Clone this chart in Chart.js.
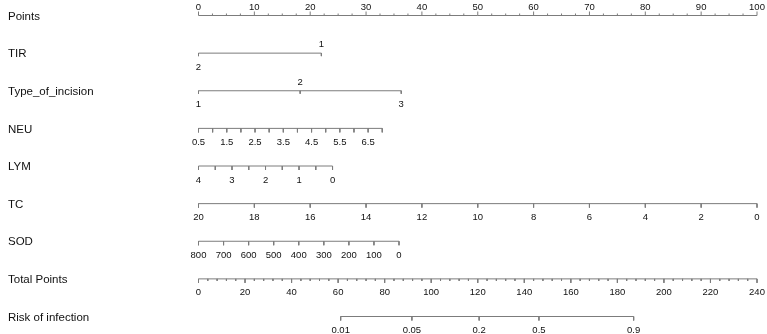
<!DOCTYPE html>
<html>
<head>
<meta charset="utf-8">
<script src="https://cdn.jsdelivr.net/npm/chart.js@4.4.1/dist/chart.umd.min.js"></script>
<style>
  html, body { margin: 0; padding: 0; background: #fff; }
  #wrap { width: 767px; height: 334px; }
</style>
</head>
<body>
<div id="wrap"><canvas id="nomo"></canvas></div>
<script>
// row names, top to bottom
const rowNames = ['Points', 'TIR', 'Type_of_incision', 'NEU', 'LYM', 'TC', 'SOD', 'Total Points', 'Risk of infection'];

// points scale
const pointLabels = [0, 10, 20, 30, 40, 50, 60, 70, 80, 90, 100];

// categorical variables: level -> points
const tirLevels = ['2', '1'];
const tirPoints = [0, 22];
const incisionLevels = ['1', '2', '3'];
const incisionPoints = [0, 18.2, 36.3];

// continuous variables: value range -> points range
const neuLabels = [0.5, 1.5, 2.5, 3.5, 4.5, 5.5, 6.5];
const neuRange = [0.5, 7];
const neuPointRange = [0, 32.9];

const lymLabels = [4, 3, 2, 1, 0];
const lymRange = [4, 0];
const lymPointRange = [0, 24.0];

const tcLabels = [20, 18, 16, 14, 12, 10, 8, 6, 4, 2, 0];
const tcRange = [20, 0];
const tcPointRange = [0, 100];

const sodLabels = [800, 700, 600, 500, 400, 300, 200, 100, 0];
const sodRange = [800, 0];
const sodPointRange = [0, 35.9];

// total points and risk
const totalLabels = [0, 20, 40, 60, 80, 100, 120, 140, 160, 180, 200, 220, 240];
const riskLabels = ['0.01', '0.05', '0.2', '0.5', '0.9'];
const riskTotalPoints = [61.1, 91.7, 120.6, 146.3, 187.0];

const lineColor = '#7c7c7c';
const textColor = '#111';
const rowPx = (316.5 - 15.5) / 8;

function toPts(v, range, ptRange) {
  return ptRange[0] + (v - range[0]) / (range[1] - range[0]) * (ptRange[1] - ptRange[0]);
}
function steps(a, b, step) {
  const out = [];
  const n = Math.round(Math.abs(b - a) / step);
  for (let i = 0; i <= n; i++) out.push(a + Math.sign(b - a) * step * i);
  return out;
}

// each row: which x scale, tick direction, line ends, ticks [pos, lenPx], labels [pos, text, side]
const rows = [];
rows.push({
  axis: 'x', dir: -1, line: [0, 100],
  ticks: steps(0, 100, 2.5).map(p => [p, p % 10 === 0 ? 4 : 2]),
  labels: pointLabels.map(p => [p, String(p), 'above'])
});
rows.push({
  axis: 'x', dir: 1, line: [tirPoints[0], tirPoints[1]],
  ticks: tirPoints.map(p => [p, 3]),
  labels: tirLevels.map((l, i) => [tirPoints[i], l, i % 2 ? 'above' : 'below'])
});
rows.push({
  axis: 'x', dir: 1, line: [incisionPoints[0], incisionPoints[2]],
  ticks: incisionPoints.map(p => [p, 3]),
  labels: incisionLevels.map((l, i) => [incisionPoints[i], l, i % 2 ? 'above' : 'below'])
});
rows.push({
  axis: 'x', dir: 1, line: neuPointRange,
  ticks: steps(neuRange[0], neuRange[1], 0.5).map(v => [toPts(v, neuRange, neuPointRange), 4]),
  labels: neuLabels.map(v => [toPts(v, neuRange, neuPointRange), String(v), 'below'])
});
rows.push({
  axis: 'x', dir: 1, line: lymPointRange,
  ticks: steps(lymRange[0], lymRange[1], 0.5).map(v => [toPts(v, lymRange, lymPointRange), 4]),
  labels: lymLabels.map(v => [toPts(v, lymRange, lymPointRange), String(v), 'below'])
});
rows.push({
  axis: 'x', dir: 1, line: tcPointRange,
  ticks: tcLabels.map(v => [toPts(v, tcRange, tcPointRange), 4]),
  labels: tcLabels.map(v => [toPts(v, tcRange, tcPointRange), String(v), 'below'])
});
rows.push({
  axis: 'x', dir: 1, line: sodPointRange,
  ticks: sodLabels.map(v => [toPts(v, sodRange, sodPointRange), 4]),
  labels: sodLabels.map(v => [toPts(v, sodRange, sodPointRange), String(v), 'below'])
});
rows.push({
  axis: 'xt', dir: 1, line: [0, 240],
  ticks: steps(0, 240, 4).map(p => [p, p % 20 === 0 ? 4 : 2]),
  labels: totalLabels.map(p => [p, String(p), 'below'])
});
rows.push({
  axis: 'xt', dir: 1, line: [riskTotalPoints[0], riskTotalPoints[riskTotalPoints.length - 1]],
  ticks: riskTotalPoints.map(p => [p, 4]),
  labels: riskLabels.map((l, i) => [riskTotalPoints[i], l, 'below'])
});

const datasets = rows.map((row, r) => {
  const data = [{ x: row.line[0], y: r }, { x: row.line[1], y: r }];
  row.ticks.forEach(([p, len]) => {
    data.push({ x: null, y: null });
    data.push({ x: p, y: r });
    data.push({ x: p, y: r + row.dir * len / rowPx });
  });
  return {
    data: data,
    xAxisID: row.axis,
    showLine: true,
    spanGaps: false,
    pointRadius: 0,
    borderColor: lineColor,
    borderWidth: 1,
    clip: false
  };
});

const textPlugin = {
  id: 'nomoText',
  afterDatasetsDraw(chart) {
    const ctx = chart.ctx;
    const yScale = chart.scales.y;
    ctx.save();
    ctx.fillStyle = textColor;
    rows.forEach((row, r) => {
      const y = yScale.getPixelForValue(r);
      ctx.font = '11.5px "Liberation Sans", Arial, sans-serif';
      ctx.textAlign = 'left';
      ctx.textBaseline = 'middle';
      ctx.fillText(rowNames[r], 8, y + 1);
      ctx.font = '9.5px "Liberation Sans", Arial, sans-serif';
      ctx.textAlign = 'center';
      ctx.textBaseline = 'alphabetic';
      const xs = chart.scales[row.axis];
      row.labels.forEach(([p, t, side]) => {
        const x = xs.getPixelForValue(p);
        ctx.fillText(t, x, side === 'above' ? y - 6 : y + 16.5);
      });
    });
    ctx.restore();
  }
};

new Chart(document.getElementById('nomo'), {
  type: 'scatter',
  data: { datasets: datasets },
  options: {
    animation: false,
    responsive: true,
    maintainAspectRatio: false,
    events: [],
    layout: { padding: { left: 198.5, right: 10, top: 15.5, bottom: 17.5 } },
    scales: {
      x: { type: 'linear', min: 0, max: 100, display: false },
      xt: { type: 'linear', axis: 'x', min: 0, max: 240, display: false },
      y: { type: 'linear', min: 0, max: 8, reverse: true, display: false }
    },
    plugins: { legend: { display: false }, tooltip: { enabled: false } }
  },
  plugins: [textPlugin]
});
</script>
</body>
</html>
